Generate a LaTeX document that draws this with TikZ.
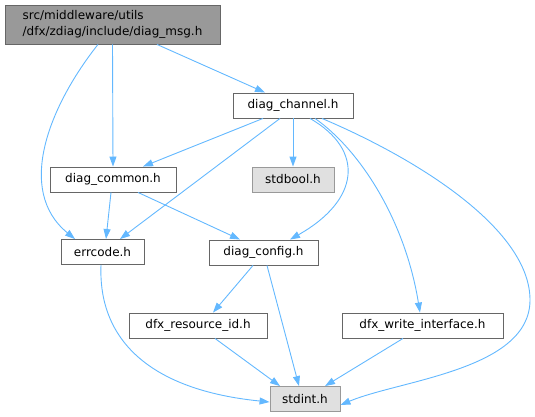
\documentclass[tikz,border=0pt]{standalone}
\usepackage{fontspec}
\setmainfont{DejaVu Sans}
\usetikzlibrary{arrows.meta}
\definecolor{edgeblue}{HTML}{63B8FF}
\definecolor{boxline}{HTML}{666666}
\definecolor{sysline}{HTML}{999999}
\definecolor{sysfill}{HTML}{E0E0E0}
\definecolor{rootfill}{HTML}{999999}
\tikzstyle{file} = [rectangle, draw=boxline, fill=white, line width=0.9pt,
    inner sep=0pt, minimum height=25pt, font=\fontsize{12}{15.5}\selectfont]
\tikzstyle{sysfile} = [file, draw=sysline, fill=sysfill]
\tikzstyle{root} = [file, fill=rootfill, align=left, minimum height=39pt]
\tikzstyle{line} = [draw=edgeblue, line width=0.9pt, -{Triangle[length=10pt,width=7pt]}]

\begin{document}
\begin{tikzpicture}[x=1pt, y=-1pt]
        \useasboundingbox (0,0) rectangle (535,417);
        % Place nodes
        \node (msg) [root, minimum width=215pt] at (112.5,24.5) {src/middleware/utils\\/dfx/zdiag/include/diag\_msg.h};
        \node (channel) [file, minimum width=120pt] at (293,105.5) {diag\_channel.h};
        \node (stdbool) [sysfile, minimum width=82pt] at (293,179.5) {stdbool.h};
        \node (common) [file, minimum width=126pt] at (113,179.5) {diag\_common.h};
        \node (errcode) [file, minimum width=83pt] at (102.5,252) {errcode.h};
        \node (config) [file, minimum width=109pt] at (263.5,252.5) {diag\_config.h};
        \node (resid) [file, minimum width=138pt] at (198,325.5) {dfx\_resource\_id.h};
        \node (writeif) [file, minimum width=161pt] at (422.5,325.5) {dfx\_write\_interface.h};
        \node (stdint) [sysfile, minimum width=70pt] at (305,399) {stdint.h};

        % diag_msg.h
        \path [line] ([xshift=-14.5pt]msg.south) .. controls (50,105) and (15,190) .. ([xshift=-27.5pt]errcode.north);
        \path [line] (msg.south) -- (common.north);
        \path [line] ([xshift=44.5pt]msg.south) -- ([xshift=-28pt]channel.north);

        % diag_channel.h
        \path [line] ([xshift=-30pt]channel.south) -- ([xshift=30pt]common.north);
        \path [line] ([xshift=-13pt]channel.south) -- ([xshift=17.5pt]errcode.north);
        \path [line] (channel.south) -- (stdbool.north);
        \path [line] ([xshift=17pt]channel.south) .. controls (365,150) and (360,200) .. ([xshift=26.5pt]config.north);
        \path [line] ([xshift=22pt]channel.south) .. controls (360,150) and (405,220) .. ([xshift=-2.5pt]writeif.north);
        \path [line] ([xshift=29pt]channel.south) .. controls (420,160) and (530,230) .. (530,300)
            .. controls (530,370) and (400,380) .. ([yshift=-6pt]stdint.east);

        % diag_common.h
        \path [line] ([xshift=-2pt]common.south) -- ([xshift=3.5pt]errcode.north);
        \path [line] ([xshift=25pt]common.south) -- ([xshift=-23.5pt]config.north);

        % errcode.h
        \path [line] ([xshift=-1.5pt]errcode.south) .. controls (98,340) and (150,390) .. ([yshift=-3pt]stdint.west);

        % diag_config.h
        \path [line] ([xshift=-10.5pt]config.south) -- ([xshift=15pt]resid.north);
        \path [line] ([xshift=3.5pt]config.south) -- ([xshift=-6pt]stdint.north);

        % dfx headers
        \path [line] ([xshift=17pt]resid.south) -- ([xshift=-25pt]stdint.north);
        \path [line] ([xshift=-19.5pt]writeif.south) -- ([xshift=20pt]stdint.north);
\end{tikzpicture}
\end{document}
